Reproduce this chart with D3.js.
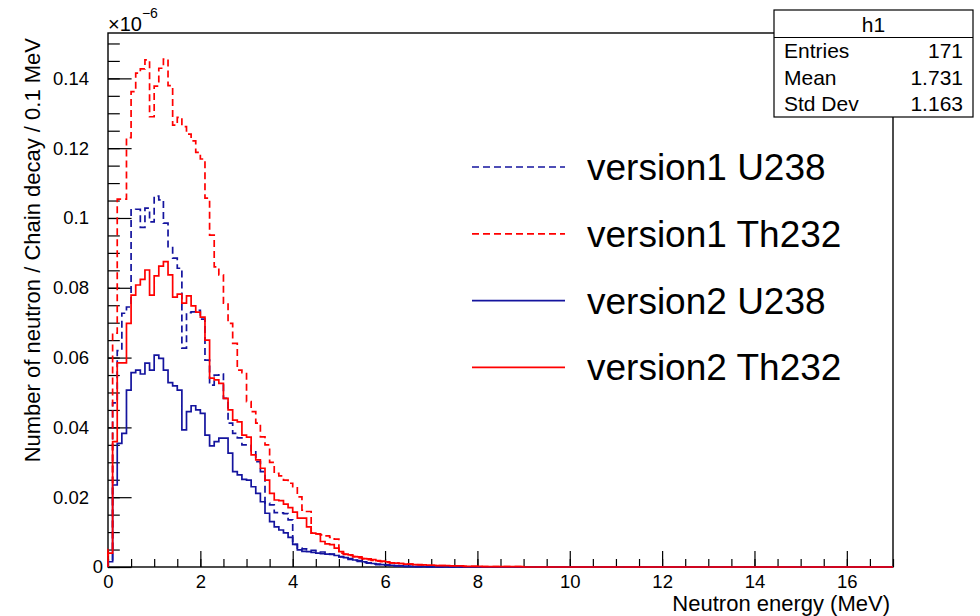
<!DOCTYPE html>
<html>
<head>
<meta charset="utf-8">
<script src="https://cdn.jsdelivr.net/npm/d3@7/dist/d3.min.js"></script>
<style>
  body { margin: 0; background: #fff; }
  svg { font-family: 'Liberation Sans', Arial, Helvetica, sans-serif; }
</style>
</head>
<body>
<svg id="chart" width="980" height="616"></svg>
<script>
// histogram binning: 170 bins of 0.1 MeV
const binLow = 0;
const binHigh = 17;
const binWidth = 0.1;

// bin contents (x 1e-6)
const v1U238 = [
  0.002,0.047,0.062,0.0727,0.0745,0.1023,0.1025,0.0973,0.1028,0.0989,0.1063,0.1052,0.0985,0.0918,0.0885,0.0856,0.0627,0.0729,0.0731,0.0735,
  0.071,0.0593,0.0521,0.055,0.0553,0.0483,0.0412,0.0383,0.037,0.035,0.035,0.033,0.0302,0.0273,0.0183,0.0178,0.0156,0.0155,0.0153,0.0135,
  0.0065,0.0054,0.0052,0.005,0.0048,0.0046,0.0043,0.004,0.0037,0.0033,0.0029,0.0026,0.0022,0.0019,0.0016,0.0013,0.0011,0.0009,0.0007,0.0006,
  0.0005,0.0004,0.0003,0.0003,0.0002,0.0002,0.0001,0.0001,0.0001,0.0001,0.0001,0,0,0,0,0,0,0,0,0,
  0,0,0,0,0,0,0,0,0,0,0,0,0,0,0,0,0,0,0,0,
  0,0,0,0,0,0,0,0,0,0,0,0,0,0,0,0,0,0,0,0,
  0,0,0,0,0,0,0,0,0,0,0,0,0,0,0,0,0,0,0,0,
  0,0,0,0,0,0,0,0,0,0,0,0,0,0,0,0,0,0,0,0,
  0,0,0,0,0,0,0,0,0,0
];
const v1Th232 = [
  0.005,0.067,0.1054,0.1054,0.123,0.1362,0.1415,0.1427,0.1453,0.129,0.1378,0.1429,0.1455,0.1379,0.1266,0.1288,0.1262,0.124,0.1221,0.1188,
  0.1169,0.1057,0.0951,0.086,0.0837,0.0756,0.0698,0.0641,0.0564,0.0557,0.0474,0.0445,0.0412,0.0373,0.035,0.03,0.0268,0.0261,0.0249,0.024,
  0.023,0.0201,0.0163,0.0159,0.0097,0.0095,0.0092,0.0089,0.0085,0.008,0.004,0.0036,0.0033,0.003,0.0026,0.0024,0.0021,0.0019,0.0017,0.0015,
  0.0013,0.0012,0.0011,0.001,0.0009,0.0008,0.0007,0.0007,0.0006,0.0005,0.0005,0.0004,0.0004,0.0003,0.0003,0.0003,0.0002,0.0002,0.0002,0.0002,
  0.0001,0.0001,0.0001,0.0001,0.0001,0.0001,0.0001,0.0001,0.0001,0.0001,0,0,0,0,0,0,0,0,0,0,
  0,0,0,0,0,0,0,0,0,0,0,0,0,0,0,0,0,0,0,0,
  0,0,0,0,0,0,0,0,0,0,0,0,0,0,0,0,0,0,0,0,
  0,0,0,0,0,0,0,0,0,0,0,0,0,0,0,0,0,0,0,0,
  0,0,0,0,0,0,0,0,0,0
];
const v2U238 = [
  0.0015,0.0235,0.0354,0.0383,0.0507,0.0557,0.0564,0.0553,0.0584,0.0564,0.0607,0.0598,0.0564,0.0528,0.0519,0.0507,0.0393,0.0445,0.0462,0.045,
  0.044,0.0378,0.0347,0.0359,0.0369,0.0369,0.0326,0.0273,0.0264,0.0251,0.0249,0.023,0.0211,0.0187,0.0154,0.013,0.0115,0.0106,0.0098,0.0085,
  0.0065,0.0049,0.0045,0.0044,0.0042,0.004,0.0038,0.0037,0.0036,0.0033,0.003,0.0027,0.0024,0.002,0.0018,0.0015,0.0012,0.001,0.0008,0.0007,
  0.0006,0.0005,0.0004,0.0003,0.0002,0.0002,0.0001,0.0001,0.0001,0,0,0,0,0,0,0,0,0,0,0,
  0,0,0,0,0,0,0,0,0,0,0,0,0,0,0,0,0,0,0,0,
  0,0,0,0,0,0,0,0,0,0,0,0,0,0,0,0,0,0,0,0,
  0,0,0,0,0,0,0,0,0,0,0,0,0,0,0,0,0,0,0,0,
  0,0,0,0,0,0,0,0,0,0,0,0,0,0,0,0,0,0,0,0,
  0,0,0,0,0,0,0,0,0,0
];
const v2Th232 = [
  0.004,0.0359,0.0585,0.0585,0.0698,0.0779,0.0808,0.0824,0.0851,0.0779,0.0834,0.0862,0.0875,0.0837,0.0773,0.0782,0.0756,0.0777,0.0748,0.073,
  0.0716,0.065,0.0541,0.0536,0.0526,0.0483,0.045,0.0421,0.0416,0.0378,0.0372,0.0321,0.0307,0.0283,0.0249,0.0211,0.0192,0.019,0.018,0.017,
  0.0157,0.014,0.014,0.0115,0.0097,0.0095,0.0073,0.0066,0.0064,0.0054,0.0044,0.0037,0.0035,0.003,0.0029,0.0024,0.0023,0.0021,0.0018,0.0017,
  0.0015,0.0012,0.0011,0.001,0.0008,0.0008,0.0007,0.0006,0.0006,0.0005,0.0005,0.0004,0.0004,0.0004,0.0003,0.0003,0.0003,0.0002,0.0002,0.0002,
  0.0002,0.0001,0.0001,0.0001,0.0001,0.0001,0.0001,0.0001,0.0001,0.0001,0,0,0,0,0,0,0,0,0,0,
  0,0,0,0,0,0,0,0,0,0,0,0,0,0,0,0,0,0,0,0,
  0,0,0,0,0,0,0,0,0,0,0,0,0,0,0,0,0,0,0,0,
  0,0,0,0,0,0,0,0,0,0,0,0,0,0,0,0,0,0,0,0,
  0,0,0,0,0,0,0,0,0,0
];

const seriesNames = ["version1 U238", "version1 Th232", "version2 U238", "version2 Th232"];
const seriesValues = [v1U238, v1Th232, v2U238, v2Th232];
const seriesColors = ["#14149e", "#ff0000", "#14149e", "#ff0000"];
const seriesDashed = [true, true, false, false];

const xTicks = [0, 2, 4, 6, 8, 10, 12, 14, 16];
const xTickLabels = ["0", "2", "4", "6", "8", "10", "12", "14", "16"];
const yTicks = [0, 0.02, 0.04, 0.06, 0.08, 0.1, 0.12, 0.14];
const yTickLabels = ["0", "0.02", "0.04", "0.06", "0.08", "0.1", "0.12", "0.14"];
const yMax = 0.153;

const statsTitle = "h1";
const statsLabels = ["Entries", "Mean", "Std Dev"];
const statsValues = ["171", "1.731", "1.163"];

var svg = d3.select("#chart");

var frame = {left: 108, top: 33, right: 893, bottom: 567};

var x = d3.scaleLinear().domain([binLow, binHigh]).range([frame.left, frame.right]);
var y = d3.scaleLinear().domain([0, yMax]).range([frame.bottom, frame.top]);

// frame
svg.append('rect')
    .attr('x', frame.left)
    .attr('y', frame.top)
    .attr('width', frame.right - frame.left)
    .attr('height', frame.bottom - frame.top)
    .attr('fill', 'none')
    .attr('stroke', '#000')
    .attr('stroke-width', 1.4);

// minor ticks
svg.append('g')
    .attr('transform', 'translate(0,' + frame.bottom + ')')
    .call(d3.axisBottom(x).tickValues(d3.range(0, binHigh + 0.01, 0.5)).tickSizeInner(-8).tickSizeOuter(0).tickFormat(''))
    .call(g => g.select('.domain').remove());

svg.append('g')
    .attr('transform', 'translate(' + frame.left + ',0)')
    .call(d3.axisLeft(y).tickValues(d3.range(0, yMax, 0.005)).tickSizeInner(-11.8).tickSizeOuter(0).tickFormat(''))
    .call(g => g.select('.domain').remove());

// major ticks + labels
var xAxis = svg.append('g')
    .attr('transform', 'translate(0,' + frame.bottom + ')')
    .call(d3.axisBottom(x).tickValues(xTicks).tickSizeInner(-16).tickSizeOuter(0).tickPadding(8)
        .tickFormat((d, i) => xTickLabels[i]))
    .call(g => g.select('.domain').remove());

var yAxis = svg.append('g')
    .attr('transform', 'translate(' + frame.left + ',0)')
    .call(d3.axisLeft(y).tickValues(yTicks).tickSizeInner(-23.6).tickSizeOuter(0).tickPadding(19)
        .tickFormat((d, i) => yTickLabels[i]))
    .call(g => g.select('.domain').remove());

svg.selectAll('.tick line').attr('stroke', '#000').attr('stroke-width', 1.2);
svg.selectAll('.tick text')
    .attr('font-size', 18.5)
    .attr('fill', '#000')
    .style('font-family', "'Liberation Sans', Arial, sans-serif");

yAxis.selectAll('.tick text').filter(d => d === 0).attr('x', -5);

// histograms as step outlines
function histPoints(vals) {
    var pts = [[binLow, 0]];
    vals.forEach(function(v, i) {
        pts.push([binLow + i * binWidth, v]);
        pts.push([binLow + (i + 1) * binWidth, v]);
    });
    pts.push([binHigh, 0]);
    return pts;
}

var line = d3.line()
    .x(d => x(d[0]))
    .y(d => y(d[1]));

seriesValues.forEach(function(vals, i) {
    svg.append('path')
        .datum(histPoints(vals))
        .attr('fill', 'none')
        .attr('stroke', seriesColors[i])
        .attr('stroke-width', 1.7)
        .attr('stroke-dasharray', seriesDashed[i] ? '7,4' : null)
        .attr('d', line);
});

// axis titles
svg.append('text')
    .attr('x', 890)
    .attr('y', 611)
    .attr('text-anchor', 'end')
    .attr('font-size', 22)
    .text('Neutron energy (MeV)');

svg.append('text')
    .attr('transform', 'translate(40,38) rotate(-90)')
    .attr('text-anchor', 'end')
    .attr('font-size', 22)
    .text('Number of neutron / Chain decay / 0.1 MeV');

// exponent
var expo = svg.append('text')
    .attr('x', 108)
    .attr('y', 31)
    .attr('font-size', 20)
    .text('\u00d710');
expo.append('tspan')
    .attr('dy', -13)
    .attr('font-size', 14)
    .text('\u22126');

// legend
var legend = svg.append('g');
seriesNames.forEach(function(name, i) {
    var ly = 167 + i * 66.8;
    legend.append('line')
        .attr('x1', 472).attr('x2', 565)
        .attr('y1', ly).attr('y2', ly)
        .attr('stroke', seriesColors[i])
        .attr('stroke-width', 1.7)
        .attr('stroke-dasharray', seriesDashed[i] ? '7,4' : null);
    legend.append('text')
        .attr('x', 587)
        .attr('y', ly + 13)
        .attr('font-size', 37)
        .text(name);
});

// stats box
var stats = svg.append('g');
stats.append('rect')
    .attr('x', 774).attr('y', 10)
    .attr('width', 199).attr('height', 107)
    .attr('fill', '#fff')
    .attr('stroke', '#000')
    .attr('stroke-width', 1.2);
stats.append('line')
    .attr('x1', 774).attr('x2', 973)
    .attr('y1', 37.5).attr('y2', 37.5)
    .attr('stroke', '#000')
    .attr('stroke-width', 1.2);
stats.append('text')
    .attr('x', 873.5).attr('y', 32)
    .attr('text-anchor', 'middle')
    .attr('font-size', 21)
    .text(statsTitle);
statsLabels.forEach(function(lab, i) {
    var sy = 58 + i * 26.5;
    stats.append('text')
        .attr('x', 784).attr('y', sy)
        .attr('font-size', 21)
        .text(lab);
    stats.append('text')
        .attr('x', 963).attr('y', sy)
        .attr('text-anchor', 'end')
        .attr('font-size', 21)
        .text(statsValues[i]);
});
</script>
</body>
</html>
